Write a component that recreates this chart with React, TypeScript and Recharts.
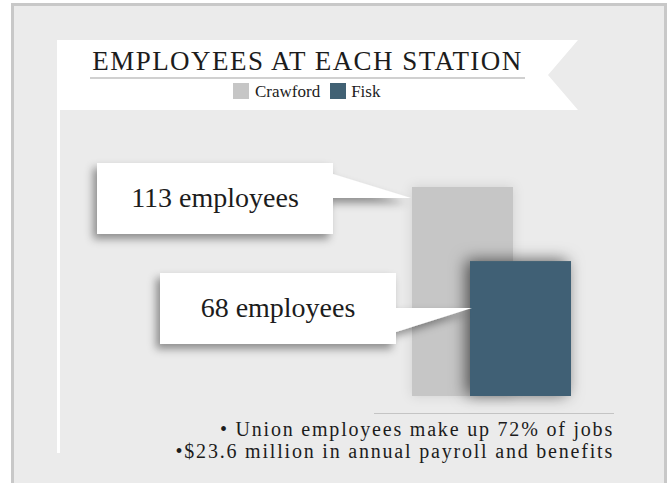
import React from "react";
import { BarChart, Bar, XAxis, YAxis, Legend, LabelList } from "recharts";

// one group of two overlapping bars
const categories = ["Employees"];
const crawford = [113];
const fisk = [68];
const seriesNames = ["Crawford", "Fisk"];
const notes = [
  "• Union employees make up 72% of jobs",
  "•$23.6 million in annual payroll and benefits",
];
const title = "EMPLOYEES AT EACH STATION";
// the original graphic does not start its bars at zero
const AXIS_FLOOR = -14;

const data = categories.map((c, i) => ({ name: c, crawford: crawford[i], fisk: fisk[i] }));

const FONT = "'Liberation Serif', 'DejaVu Serif', serif";
const INK = "#1c1c1c";
const GREY = "#c6c6c6";
const BLUE = "#416174";

function BarShape(props: any) {
  const { x, y, width, height, fill, shadow } = props;
  return <rect x={x} y={y} width={width} height={height} fill={fill} filter={`url(#${shadow})`} />;
}

// white callout box with a pointer that reaches the bar
function Callout(props: any) {
  const { x, y, index, values, dx, dy, gap, pointUp } = props;
  const tx = x + dx;
  const ty = y + dy;
  const x1 = tx - gap;
  const x0 = x1 - 236;
  const y0 = ty - 35;
  const y1 = y0 + 71;
  const d = pointUp
    ? `M${x0},${y0} H${x1} V${ty - 24} L${tx},${ty} H${x1} V${y1} H${x0} Z`
    : `M${x0},${y0} H${x1} V${ty} H${tx} L${x1},${ty + 24} V${y1} H${x0} Z`;
  return (
    <g>
      <path d={d} fill="#ffffff" filter="url(#calloutShadow)" />
      <text x={(x0 + x1) / 2} y={ty + 9} textAnchor="middle" fontFamily={FONT} fontSize={28} fill={INK}>
        {`${values[index]} employees`}
      </text>
    </g>
  );
}

function LegendContent(props: any) {
  const { payload = [] } = props;
  return (
    <div style={{ display: "flex", alignItems: "flex-start", fontFamily: FONT, fontSize: 17, color: INK }}>
      {payload.map((p: any, i: number) => (
        <div key={i} style={{ display: "flex", alignItems: "flex-start", marginRight: 10 }}>
          <span style={{ width: 16, height: 16, background: p.color, display: "inline-block", marginRight: i === 0 ? 6 : 5 }} />
          <span style={{ lineHeight: "16px", marginTop: 1 }}>{p.value}</span>
        </div>
      ))}
    </div>
  );
}

export default function App() {
  return (
    <div style={{ position: "absolute", left: 0, top: 0, width: 667, height: 483, overflow: "hidden" }}>
      <svg width={667} height={483} style={{ position: "absolute", left: 0, top: 0 }}>
        <defs>
          <filter id="calloutShadow" x="-20%" y="-30%" width="140%" height="170%">
            <feDropShadow dx={-4} dy={5} stdDeviation={4.5} floodColor="#000" floodOpacity={0.4} />
          </filter>
          <filter id="fiskShadow" x="-40%" y="-30%" width="180%" height="160%">
            <feDropShadow dx={-4} dy={-1} stdDeviation={8} floodColor="#000" floodOpacity={0.6} />
          </filter>
          <filter id="crawfordShadow" x="-40%" y="-30%" width="180%" height="160%">
            <feDropShadow dx={0} dy={0} stdDeviation={6} floodColor="#000" floodOpacity={0.12} />
          </filter>
        </defs>
        <rect x={0} y={0} width={667} height={483} fill="#ffffff" />
        <rect x={12.5} y={4.5} width={653} height={520} fill="#ebebeb" stroke="#c8c8c8" strokeWidth={3} />
        <polygon
          points="57,40 578,40 548,75 578,110 60,110 60,453 57,453"
          fill="#ffffff"
        />
        <text x={307.5} y={70} textAnchor="middle" fontFamily={FONT} fontSize={27} letterSpacing={1.45} fill={INK}>
          {title}
        </text>
        <rect x={90} y={77} width={435} height={2} fill="#d0d0d0" />
        <line x1={374} x2={614} y1={413.5} y2={413.5} stroke="#c4c4c4" strokeWidth={1} />
        {notes.map((n, i) => (
          <text key={i} x={614} y={436 + i * 22} textAnchor="end" fontFamily={FONT} fontSize={20} letterSpacing={1.8} fill={INK}>
            {n}
          </text>
        ))}
      </svg>
      <div style={{ position: "absolute", left: 0, top: 0 }}>
        <BarChart
          width={667}
          height={483}
          data={data}
          margin={{ top: 187, right: 54, bottom: 87, left: 370 }}
          barSize={101}
          barGap={-43}
        >
          <XAxis dataKey="name" hide />
          <YAxis hide domain={[AXIS_FLOOR, Math.max(...crawford, ...fisk)]} />
          <Legend
            layout="horizontal"
            verticalAlign="middle"
            align="center"
            content={<LegendContent />}
            wrapperStyle={{ left: 233, top: 83, width: 200, height: 17 }}
          />
          <Bar
            name={seriesNames[0]}
            dataKey={(d: any) => [AXIS_FLOOR, d.crawford]}
            fill={GREY}
            isAnimationActive={false}
            shape={<BarShape shadow="crawfordShadow" />}
          >
            <LabelList
              content={(p: any) => <Callout {...p} values={crawford} dx={-1} dy={11} gap={78} pointUp />}
            />
          </Bar>
          <Bar
            name={seriesNames[1]}
            dataKey={(d: any) => [AXIS_FLOOR, d.fisk]}
            fill={BLUE}
            isAnimationActive={false}
            shape={<BarShape shadow="fiskShadow" />}
          >
            <LabelList
              content={(p: any) => <Callout {...p} values={fisk} dx={2} dy={47} gap={76} pointUp={false} />}
            />
          </Bar>
        </BarChart>
      </div>
    </div>
  );
}
